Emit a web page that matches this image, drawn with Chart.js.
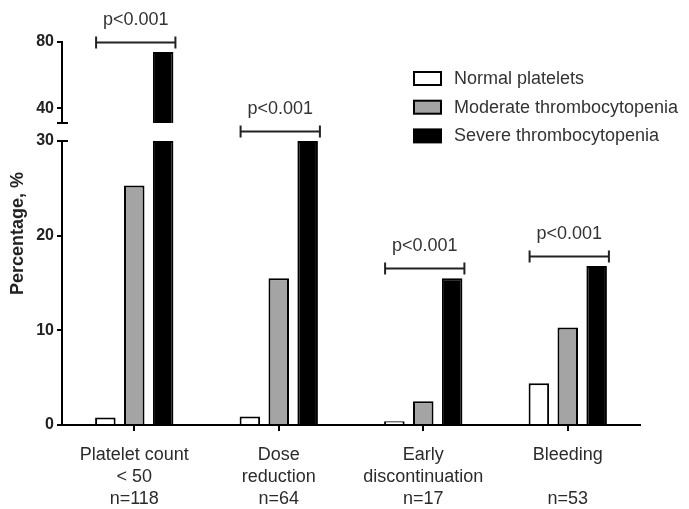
<!DOCTYPE html>
<html>
<head>
<meta charset="utf-8">
<script src="https://cdn.jsdelivr.net/npm/chart.js@4/dist/chart.umd.min.js"></script>
<style>
  html, body { margin: 0; padding: 0; background: #fff; }
  #wrap { position: relative; width: 689px; height: 509px; }
</style>
</head>
<body>
<div id="wrap"><canvas id="chart" width="689" height="509"></canvas></div>
<script>
// ---- data ----
const categories = [
  ['Platelet count', '< 50', 'n=118'],
  ['Dose', 'reduction', 'n=64'],
  ['Early', 'discontinuation', 'n=17'],
  ['Bleeding', '', 'n=53']
];
const seriesNames = ['Normal platelets', 'Moderate thrombocytopenia', 'Severe thrombocytopenia'];
const normalPlatelets = [0.8, 0.9, 0.4, 4.4];
const moderateThrombocytopenia = [25.3, 15.5, 2.5, 10.3];
const severeThrombocytopenia = [74, 30, 15.5, 16.8];
const pValueLabels = ['p<0.001', 'p<0.001', 'p<0.001', 'p<0.001'];
const lowerTicks = [0, 10, 20, 30];
const upperTicks = [40, 80];
const lowerRange = [0, 30];   // bottom segment of the broken axis
const upperRange = [31, 80];  // top segment of the broken axis
const yTitle = 'Percentage, %';

// ---- styling ----
const FONT = "'Liberation Sans', Arial, sans-serif";
const fills = ['#ffffff', '#a4a4a4', '#000000'];
const seriesValues = [normalPlatelets, moderateThrombocytopenia, severeThrombocytopenia];

const datasets = [];
// bottom segment: bars capped at the break
seriesValues.forEach((vals, k) => {
  datasets.push({
    label: seriesNames[k],
    data: vals.map(v => Math.min(v, lowerRange[1])),
    yAxisID: 'y',
    stack: 's' + k,
    backgroundColor: fills[k],
    borderColor: '#000',
    borderWidth: 2,
    categoryPercentage: 0.6,
    barPercentage: 0.71
  });
});
// top segment: only the part of bars that reach above the break
seriesValues.forEach((vals, k) => {
  datasets.push({
    label: seriesNames[k],
    data: vals.map(v => (v > upperRange[0] ? v : null)),
    yAxisID: 'yTop',
    stack: 's' + k,
    backgroundColor: fills[k],
    borderColor: '#000',
    borderWidth: 2,
    categoryPercentage: 0.6,
    barPercentage: 0.71
  });
});

const fixedWidth = w => s => { s.width = w; };

const decor = {
  id: 'decor',
  afterDraw(chart) {
    const { ctx, chartArea } = chart;
    const yLow = chart.scales.y, yUp = chart.scales.yTop;
    const axisX = chartArea.left - 1;
    ctx.save();

    // break caps on the y axis
    ctx.strokeStyle = '#000';
    ctx.lineWidth = 2;
    ctx.beginPath();
    const yb = yUp.getPixelForValue(upperRange[0]);
    ctx.moveTo(axisX - 4, yb); ctx.lineTo(axisX + 7, yb);
    const yt = yLow.getPixelForValue(lowerRange[1]);
    ctx.moveTo(axisX, yt); ctx.lineTo(axisX + 7, yt);
    ctx.stroke();

    // significance brackets
    categories.forEach((_, i) => {
      let left = Infinity, right = -Infinity, top = Infinity;
      chart.data.datasets.forEach((ds, d) => {
        if (ds.data[i] == null) return;
        const el = chart.getDatasetMeta(d).data[i];
        if (!el) return;
        const p = el.getProps(['x', 'y', 'width'], true);
        left = Math.min(left, p.x - p.width / 2);
        right = Math.max(right, p.x + p.width / 2);
        top = Math.min(top, p.y);
      });
      const by = Math.round(top - 10) + 0.5;
      const x0 = left + 1, x1 = right + 2;
      ctx.strokeStyle = '#222';
      ctx.lineWidth = 2;
      ctx.beginPath();
      ctx.moveTo(x0, by); ctx.lineTo(x1, by);
      ctx.moveTo(x0, by - 6); ctx.lineTo(x0, by + 6);
      ctx.moveTo(x1, by - 6); ctx.lineTo(x1, by + 6);
      ctx.stroke();
      ctx.fillStyle = '#333';
      ctx.font = '18px ' + FONT;
      ctx.textAlign = 'center';
      ctx.textBaseline = 'middle';
      ctx.fillText(pValueLabels[i], (x0 + x1) / 2, by - 22);
    });

    // y axis title, centred over both segments
    ctx.save();
    ctx.translate(18, (chartArea.top + chartArea.bottom) / 2);
    ctx.rotate(-Math.PI / 2);
    ctx.fillStyle = '#222';
    ctx.font = 'bold 18px ' + FONT;
    ctx.textAlign = 'center';
    ctx.textBaseline = 'middle';
    ctx.fillText(yTitle, 0, 0);
    ctx.restore();

    // legend
    const lx = 414, ly = 72, step = 28.7;
    seriesNames.forEach((name, k) => {
      const y = ly + k * step;
      ctx.fillStyle = fills[k];
      ctx.fillRect(lx, y, 27, 13);
      ctx.strokeStyle = '#000';
      ctx.lineWidth = 2;
      ctx.strokeRect(lx, y, 27, 13);
      ctx.fillStyle = '#333';
      ctx.font = '18px ' + FONT;
      ctx.textAlign = 'left';
      ctx.textBaseline = 'middle';
      ctx.fillText(name, 454, y + 7);
    });
    ctx.restore();
  }
};

const yCommon = {
  type: 'linear',
  position: 'left',
  stack: 'left',
  stacked: false,
  grid: { drawOnChartArea: false, drawTicks: true, tickLength: 5, color: '#000', lineWidth: 2 },
  border: { display: true, color: '#000', width: 2 },
  ticks: { color: '#222', padding: 3, font: { family: FONT, size: 16, weight: 'bold' } },
  afterFit: fixedWidth(62)
};

new Chart(document.getElementById('chart'), {
  type: 'bar',
  data: { labels: categories, datasets },
  plugins: [decor],
  options: {
    responsive: false,
    animation: false,
    devicePixelRatio: 1,
    layout: { padding: { top: 42, right: 49, left: 0, bottom: 0 } },
    plugins: { legend: { display: false }, tooltip: { enabled: false } },
    scales: {
      x: {
        type: 'category',
        offset: true,
        grid: { display: true, drawOnChartArea: false, drawTicks: true, tickLength: 6, offset: false, color: '#000', lineWidth: 2 },
        border: { display: true, color: '#000', width: 2 },
        ticks: { color: '#2b2b2b', padding: 13, maxRotation: 0, autoSkip: false, font: { family: FONT, size: 18, lineHeight: 1.22 } },
        afterFit: s => { s.height = 84; }
      },
      y: Object.assign({}, yCommon, {
        stackWeight: 284,
        weight: 0,
        min: lowerRange[0],
        max: lowerRange[1],
        afterBuildTicks: s => { s.ticks = lowerTicks.map(v => ({ value: v })); }
      }),
      yGap: {
        type: 'linear',
        position: 'left',
        stack: 'left',
        stackWeight: 18,
        weight: 1,
        grid: { display: false },
        border: { display: false },
        ticks: { display: false },
        afterFit: fixedWidth(62)
      },
      yTop: Object.assign({}, yCommon, {
        stackWeight: 81,
        weight: 2,
        min: upperRange[0],
        max: upperRange[1],
        afterBuildTicks: s => { s.ticks = upperTicks.map(v => ({ value: v })); }
      })
    }
  }
});
</script>
</body>
</html>
